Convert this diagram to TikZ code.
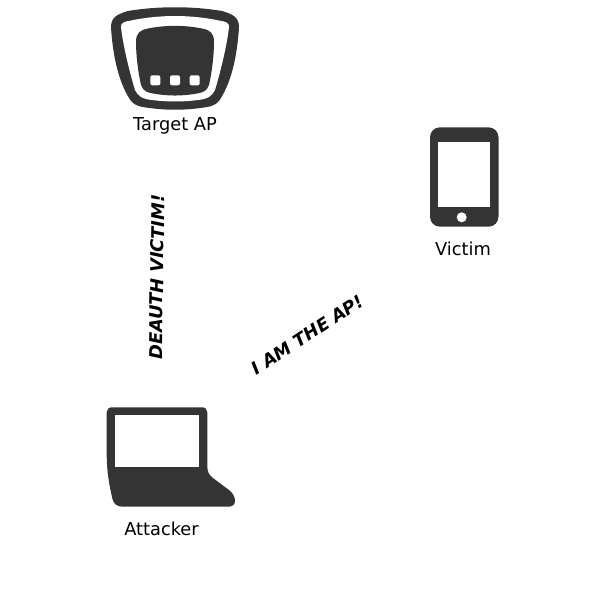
\documentclass[tikz,border=0pt]{standalone}
\usepackage{fontspec}
\setmainfont{DejaVu Sans}
\definecolor{dev}{HTML}{343434}
\tikzset{
  devfill/.style={fill=dev,draw=none},
  hole/.style={fill=white,draw=none},
  lab/.style={font=\fontsize{17.8}{20}\selectfont,text=black,inner sep=0pt,anchor=center},
  shout/.style={font=\fontsize{17.7}{20}\selectfont\bfseries\itshape,text=black,inner sep=0pt,anchor=center}
}
\begin{document}
\begin{tikzpicture}[x=1pt,y=-1pt]
\useasboundingbox[fill=white] (0,0) rectangle (600,600);
% Target AP
\fill[devfill] (111,27) .. controls (111,17) and (118,14) .. (128,11)
  .. controls (158,6) and (192,6) .. (222,11)
  .. controls (232,14) and (239,17) .. (239,27)
  .. controls (237,60) and (230,85) .. (219,101)
  .. controls (215,106) and (209,107) .. (200,108)
  .. controls (185,110.3) and (165,110.3) .. (150,108)
  .. controls (141,107) and (135,106) .. (131,101)
  .. controls (120,85) and (113,60) .. cycle;
\fill[hole] (121,27) .. controls (120.5,23) and (124,21.5) .. (131,20.5)
  .. controls (160,14.5) and (190,14.5) .. (219,20.5)
  .. controls (226,21.5) and (229.5,23) .. (229,27)
  .. controls (227,45) and (221,70) .. (215,90)
  .. controls (212,96) and (208,99) .. (198,100)
  .. controls (183,102) and (167,102) .. (152,100)
  .. controls (142,99) and (138,96) .. (135,90)
  .. controls (129,70) and (123,45) .. cycle;
\fill[devfill] (136,42) .. controls (136,33) and (140,30) .. (148,28.5)
  .. controls (165,25) and (185,25) .. (202,28.5)
  .. controls (210,30) and (214,33) .. (214,42)
  .. controls (214,55) and (212,72) .. (209,85)
  .. controls (207,91) and (203,92.5) .. (197,93.5)
  .. controls (182,96.2) and (168,96.2) .. (153,93.5)
  .. controls (147,92.5) and (143,91) .. (141,85)
  .. controls (138,72) and (136,55) .. cycle;
\foreach \cx in {155.3,175,194.7}
  \fill[hole,rounded corners=2pt] (\cx-5,75.3) rectangle (\cx+5,85.3);
\node[lab] (ap) at (175,126) {Target AP};
% Victim
\fill[devfill,rounded corners=10pt] (430,127.3) rectangle (498.5,226.7);
\fill[hole] (438,142.3) rectangle (490,206.7);
\fill[hole] (461.7,217.3) circle (5pt);
\node[lab] (victim) at (463,249) {Victim};
% Attacker
\fill[devfill] (112,407.3) -- (202,407.3)
  .. controls (205.5,407.3) and (207.3,409.5) .. (207.3,412.5)
  -- (207.3,466)
  .. controls (207.3,472) and (209,475) .. (213,478)
  -- (229,490)
  .. controls (233,493) and (235,497) .. (235,501)
  .. controls (235,505) and (232,506.7) .. (228,506.7)
  -- (124,506.7)
  .. controls (116,506.7) and (113.5,504) .. (112,497)
  .. controls (109,484) and (106.7,470) .. (106.7,455)
  -- (106.7,412.5)
  .. controls (106.7,409.5) and (108.5,407.3) .. cycle;
\fill[hole] (115,415) rectangle (199.3,467);
\node[lab] (attacker) at (161.5,529) {Attacker};
% Messages
\node[shout,rotate=89] (deauth) at (157,277) {DEAUTH VICTIM!};
\node[shout,rotate=33] (iam) at (307.5,335) {I AM THE AP!};
\end{tikzpicture}
\end{document}
